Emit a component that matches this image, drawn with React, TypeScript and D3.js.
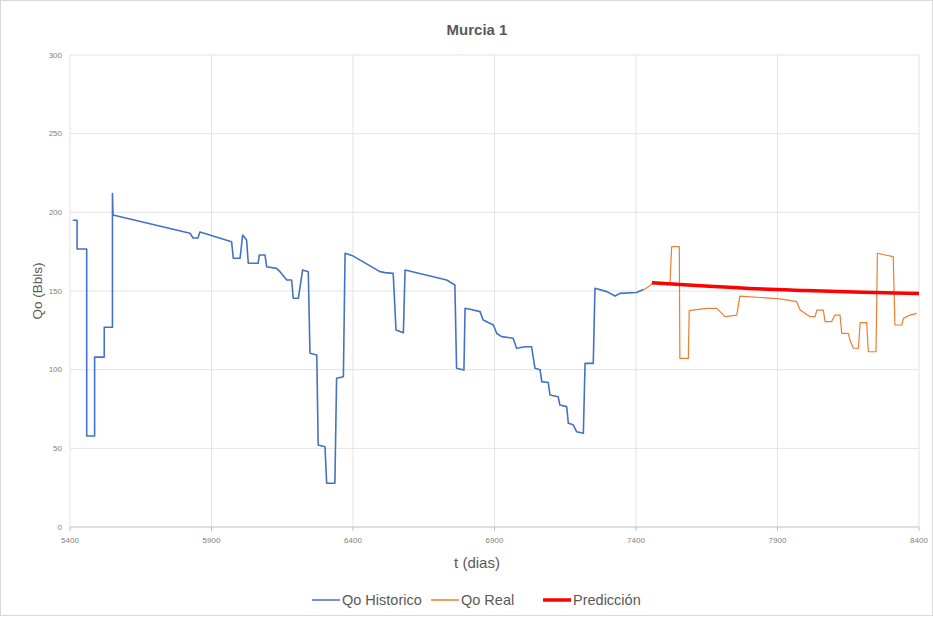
import React from "react";
import * as d3 from "d3";

const title = "Murcia 1";
const xTicks = [5400, 5900, 6400, 6900, 7400, 7900, 8400];
const yTicks = [0, 50, 100, 150, 200, 250, 300];
const seriesNames = ["Qo Historico", "Qo Real", "Predicción"];

// Qo Historico (t, Qo)
const historico: [number, number][] = [
  [5410, 195], [5425, 195], [5425, 176.7], [5459, 176.7], [5459, 57.8], [5487, 57.8],
  [5487, 108], [5521, 108], [5521, 127], [5550, 127], [5550, 212], [5552, 198.3],
  [5824, 186.7], [5835, 183.7], [5852, 183.7], [5859, 187.5], [5971, 181.3], [5977, 170.8],
  [6001, 170.8], [6010, 185.6], [6024, 182.4], [6030, 167.6], [6065, 167.6], [6069, 172.9],
  [6089, 172.9], [6095, 165.4], [6130, 164.4], [6142, 162.3], [6166, 157], [6183, 157],
  [6189, 145.4], [6207, 145.4], [6222, 163.4], [6242, 162.3], [6248, 110.4], [6272, 109.3],
  [6277, 52.1], [6301, 51], [6307, 27.8], [6336, 27.8], [6342, 94.5], [6366, 95.5],
  [6372, 174], [6401, 172.2], [6495, 162.3], [6513, 161.7], [6542, 161.2], [6552, 125.2],
  [6578, 123.5], [6584, 163.3], [6731, 157], [6760, 153.8], [6766, 100.9], [6792, 99.8],
  [6796, 139], [6813, 138.4], [6849, 136.9], [6860, 131.6], [6896, 128.4], [6908, 123],
  [6925, 121], [6966, 120], [6978, 113.6], [7008, 114.6], [7031, 114.6], [7043, 100.9],
  [7061, 100], [7067, 92.4], [7090, 91.8], [7096, 83.9], [7125, 82.8], [7131, 77.5],
  [7155, 76.5], [7161, 65.9], [7178, 65], [7190, 60.6], [7214, 59.6], [7220, 104],
  [7249, 104], [7255, 151.7], [7297, 149.6], [7326, 146.8], [7343, 148.5], [7402, 149],
  [7426, 151],
];

// Qo Real (t, Qo)
const real: [number, number][] = [
  [7426, 150.6], [7444, 152.7], [7461, 154.9], [7520, 154.9], [7526, 178.2], [7553, 178.2],
  [7555, 107.2], [7585, 107.2], [7588, 137.5], [7650, 139], [7685, 139], [7697, 136.9],
  [7715, 133.7], [7756, 134.7], [7767, 146.8], [7909, 145], [7968, 143.2], [7980, 137.9],
  [8015, 133.7], [8033, 133.7], [8039, 137.9], [8062, 137.9], [8068, 130.5], [8091, 130.5],
  [8103, 134.7], [8121, 134.7], [8127, 123.1], [8150, 123.1], [8156, 118.9], [8168, 113.6],
  [8186, 113.6], [8192, 129.9], [8215, 129.9], [8221, 111.4], [8248, 111.4], [8253, 174],
  [8280, 172.9], [8309, 171.8], [8315, 128.4], [8339, 128.4], [8345, 132.6], [8368, 134.7],
  [8392, 135.8],
];

// Predicción (t, Qo)
const prediccion: [number, number][] = [
  [7456, 155.3], [7600, 153.6], [7800, 151.6], [8000, 150.3], [8200, 149.2], [8400, 148.4],
];

const W = 933, H = 618;
const M = { left: 70, right: 14, top: 55, bottom: 91 };

export default function App() {
  const x = d3.scaleLinear().domain([5400, 8400]).range([M.left, W - M.right]);
  const y = d3.scaleLinear().domain([0, 300]).range([H - M.bottom, M.top]);
  const line = d3.line<[number, number]>().x(d => x(d[0])).y(d => y(d[1]));
  const smooth = d3.line<[number, number]>().x(d => x(d[0])).y(d => y(d[1])).curve(d3.curveMonotoneX);
  const font = "'Liberation Sans', Arial, sans-serif";
  const colors = ["#4472C4", "#ED7D31", "#FF0000"];
  const widths = [1.6, 1.2, 3.5];
  const legendX = [312, 431, 543];
  return (
    <svg width={W} height={H} style={{ position: "absolute", left: 0, top: 0, background: "#fff" }} fontFamily={font}>
      <rect x={0.5} y={0.5} width={W - 1} height={H - 3} fill="#fff" stroke="#d9d9d9" />
      {yTicks.map(t => (
        <g key={"y" + t}>
          <line x1={M.left} x2={W - M.right} y1={y(t)} y2={y(t)} stroke={t === 0 ? "#bfbfbf" : "#e3e3e3"} strokeWidth={1} />
          <text x={M.left - 8} y={y(t)} dy="0.35em" textAnchor="end" fontSize={8} fill="#7f7f7f">{t}</text>
        </g>
      ))}
      {xTicks.map(t => (
        <g key={"x" + t}>
          <line x1={x(t)} x2={x(t)} y1={M.top} y2={y(0)} stroke="#e3e3e3" strokeWidth={1} />
          <line x1={x(t)} x2={x(t)} y1={y(0)} y2={y(0) + 4} stroke="#bfbfbf" strokeWidth={1} />
          <text x={x(t)} y={y(0) + 16} textAnchor="middle" fontSize={8} fill="#7f7f7f">{t}</text>
        </g>
      ))}
      <path d={line(historico) || ""} fill="none" stroke={colors[0]} strokeWidth={widths[0]} strokeLinejoin="round" />
      <path d={line(real) || ""} fill="none" stroke={colors[1]} strokeWidth={widths[1]} strokeLinejoin="round" />
      <path d={smooth(prediccion) || ""} fill="none" stroke={colors[2]} strokeWidth={widths[2]} />
      <text x={477} y={35} textAnchor="middle" fontSize={15} fontWeight="bold" fill="#595959">{title}</text>
      <text x={477} y={568} textAnchor="middle" fontSize={15} fill="#595959">t (dias)</text>
      <text transform={`translate(42,${(M.top + H - M.bottom) / 2}) rotate(-90)`} textAnchor="middle" fontSize={13.5} fill="#595959">Qo (Bbls)</text>
      {seriesNames.map((n, i) => (
        <g key={n}>
          <line x1={legendX[i]} x2={legendX[i] + 28} y1={600} y2={600} stroke={colors[i]} strokeWidth={i === 2 ? 3.5 : 1.5} />
          <text x={legendX[i] + 30} y={600} dy="0.35em" fontSize={14.5} fill="#595959">{n}</text>
        </g>
      ))}
    </svg>
  );
}
